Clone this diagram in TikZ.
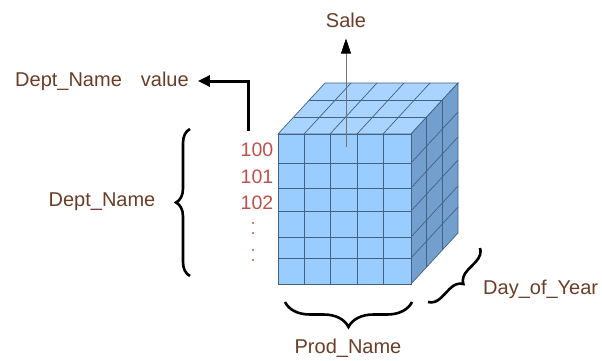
\documentclass[tikz,border=0pt]{standalone}
\usepackage{fontspec}
\setmainfont{Liberation Sans}
\usetikzlibrary{arrows.meta,decorations.pathreplacing}
\definecolor{txtbrown}{HTML}{6A3D26}
\definecolor{numred}{HTML}{C0504D}
\definecolor{frontc}{HTML}{99CCFF}
\definecolor{topc}{HTML}{A9D4FF}
\definecolor{sidec}{HTML}{739FCF}
\definecolor{gridc}{HTML}{44617F}
\begin{document}
\begin{tikzpicture}[x=1pt,y=-1pt,
  lbl/.style={text=txtbrown,font=\fontsize{20}{24}\selectfont,inner sep=0pt},
  num/.style={text=numred,font=\fontsize{19.5}{22}\selectfont,inner sep=0pt},
  gridline/.style={draw=gridc,line width=0.7pt},
  bracestyle/.style={decorate,decoration={brace,amplitude=#1},line width=2.6pt,black}]
\useasboundingbox (0,0) rectangle (602,361);
% ---- top face
\filldraw[fill=topc,gridline] (278,134) -- (411,134) -- (458,83) -- (325,83) -- cycle;
\foreach \i in {1,2}
  \draw[gridline] (278+47*\i/3,134-51*\i/3) -- (411+47*\i/3,134-51*\i/3);
\foreach \x in {304,330,357,383}
  \draw[gridline] (\x,134) -- (\x+47,83);
% ---- right face
\filldraw[fill=sidec,gridline] (411,134) -- (458,83) -- (458,233) -- (411,284) -- cycle;
\foreach \y in {163,188,211,237,258}
  \draw[gridline] (411,\y) -- (458,\y-51);
\foreach \i in {1,2}
  \draw[gridline] (411+47*\i/3,134-51*\i/3) -- (411+47*\i/3,284-51*\i/3);
% ---- front face
\filldraw[fill=frontc,gridline] (278,134) rectangle (411,284);
\foreach \x in {304,330,357,383}
  \draw[gridline] (\x,134) -- (\x,284);
\foreach \y in {163,188,211,237,258}
  \draw[gridline] (278,\y) -- (411,\y);
% ---- Sale axis
\node[lbl] (sale) at (346,20) {Sale};
\coordinate (saleS) at (346,147);
\draw[line width=0.6pt,draw=black!55,-{Triangle[length=15pt,width=10pt,black]},shorten >=11pt] (saleS) -- (sale.south);
% ---- Dept value
\node[lbl,anchor=west] (dv) at (15,81) {Dept\_Name\hspace{19pt}value};
\coordinate (dvS) at (248,131);
\draw[line width=3pt,-{Triangle[length=12pt,width=11pt]},shorten >=9pt] (dvS) |- (dv.east);
% ---- row labels
\node[num] (n100) at (257,150) {100};
\node[num] (n101) at (257,177) {101};
\node[num] (n102) at (257,203) {102};
\foreach \y/\n in {223/d1,233/d2,250/d3,260/d4}
  \fill[numred] (253,\y) circle (1.2pt) coordinate (\n);
% ---- Dept_Name brace
\coordinate (lbA) at (190,276);
\coordinate (lbB) at (190,129);
\draw[bracestyle=14pt] (lbA) -- (lbB);
\node[lbl] (dept) at (102,202) {Dept\_Name};
% ---- Prod_Name brace
\coordinate (bbA) at (412,302);
\coordinate (bbB) at (285,302);
\draw[bracestyle=25pt] (bbA) -- (bbB);
\node[lbl] (prod) at (348,348) {Prod\_Name};
% ---- Day_of_Year brace
\coordinate (dbA) at (480,248);
\coordinate (dbB) at (428,302);
\draw[bracestyle=13pt] (dbA) -- (dbB);
\node[lbl,anchor=west] (day) at (483,289) {Day\_of\_Year};
\end{tikzpicture}
\end{document}
